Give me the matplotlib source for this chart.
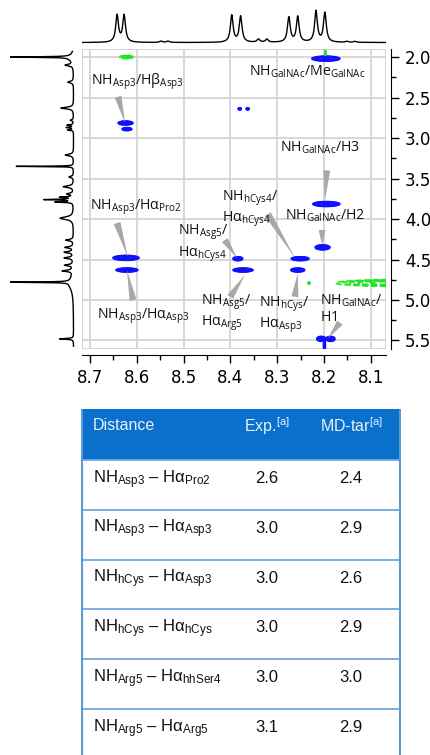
import numpy as np
import matplotlib.pyplot as plt
from matplotlib.patches import Rectangle
from matplotlib.ticker import MultipleLocator, FormatStrFormatter

plt.rcParams['font.family'] = ['Open Sans', 'DejaVu Sans']
plt.rcParams['mathtext.fontset'] = 'custom'
plt.rcParams['mathtext.default'] = 'regular'

# --- данные ---
# проекция F2 (сверху): положение, интенсивность
top_ppm = [8.642, 8.627, 8.548, 8.533, 8.397, 8.378, 8.340, 8.322,
           8.275, 8.256, 8.217, 8.198, 8.151, 8.134]
top_int = [0.78, 0.78, 0.04, 0.04, 0.78, 0.75, 0.09, 0.09,
           0.72, 0.74, 0.90, 0.85, 0.03, 0.03]

# проекция F1 (слева): положение, интенсивность, полуширина
left_ppm = [2.00, 2.01, 2.10, 2.31, 2.63, 2.78, 2.84, 2.87, 2.90, 3.21, 3.35,
            3.48, 3.60, 3.69, 3.73, 3.76, 3.79, 3.99, 4.26, 4.35, 4.41, 4.48,
            4.57, 4.64, 4.78, 4.80, 5.48]
left_int = [0.95, 0.08, 0.12, 0.09, 0.20, 0.05, 0.10, 0.11, 0.09, 0.13, 0.90,
            0.07, 0.16, 0.10, 0.20, 0.45, 0.28, 0.21, 0.12, 0.13, 0.14, 0.14,
            0.13, 0.16, 0.95, 0.07, 0.22]
left_hw = [0.004, 0.04, 0.012, 0.012, 0.012, 0.008, 0.006, 0.006, 0.006, 0.012, 0.003,
           0.01, 0.012, 0.01, 0.006, 0.005, 0.006, 0.02, 0.01, 0.01, 0.01, 0.01,
           0.01, 0.01, 0.004, 0.09, 0.006]

# кросс-пики ROESY (положительные, синие): F2, F1, ширина F2, ширина F1
pos_f2 = [8.196, 8.624, 8.621, 8.380, 8.363, 8.195, 8.203, 8.623, 8.621,
          8.384, 8.373, 8.251, 8.256, 8.206, 8.186, 8.199]
pos_f1 = [2.02, 2.815, 2.89, 2.64, 2.64, 3.815, 4.35, 4.48, 4.63,
          4.49, 4.63, 4.49, 4.63, 5.48, 5.48, 5.56]
pos_w2 = [0.060, 0.032, 0.021, 0.0065, 0.0065, 0.058, 0.032, 0.056, 0.047,
          0.021, 0.043, 0.038, 0.030, 0.019, 0.019, 0.004]
pos_w1 = [0.062, 0.049, 0.037, 0.025, 0.025, 0.062, 0.062, 0.062, 0.049,
          0.049, 0.049, 0.049, 0.049, 0.062, 0.062, 0.14]

# отрицательные (зелёные)
neg_f2 = [8.622, 8.232, 8.030, 8.197]
neg_f1 = [2.00, 4.79, 4.79, 1.95]
neg_w2 = [0.028, 0.004, 0.29, 0.003]
neg_w1 = [0.037, 0.02, 0.085, 0.06]

# подписи: текст, позиция текста, начало клина, острие клина
ann_text = [r'$NH_{Asp3}/H\beta_{Asp3}$',
            r'$NH_{GalNAc}/Me_{GalNAc}$',
            r'$NH_{GalNAc}/H3$',
            r'$NH_{GalNAc}/H2$',
            r'$NH_{Asp3}/H\alpha_{Pro2}$',
            r'$NH_{Asp3}/H\alpha_{Asp3}$',
            '$NH_{hCys4}/$' + '\n' + r'$H\alpha_{hCys4}$',
            '$NH_{Asg5}/$' + '\n' + r'$H\alpha_{hCys4}$',
            '$NH_{Asg5}/$' + '\n' + r'$H\alpha_{Arg5}$',
            '$NH_{hCys}/$' + '\n' + r'$H\alpha_{Asp3}$',
            '$NH_{GalNAc}/$' + '\n' + '$H1$']
ann_pos = [(8.698, 2.30), (8.360, 2.185), (8.294, 3.12), (8.283, 3.96),
           (8.700, 3.85), (8.685, 5.20), (8.418, 3.87), (8.512, 4.30),
           (8.463, 5.155), (8.339, 5.185), (8.209, 5.11)]
ann_tail = [(8.640, 2.49), None, (8.194, 3.40), (8.204, 4.135),
            (8.642, 4.05), (8.608, 5.00), (8.320, 3.94), (8.412, 4.26),
            (8.400, 4.96), (8.262, 4.96), (8.166, 5.28)]
ann_head = [(8.625, 2.81), None, (8.198, 3.77), (8.204, 4.32),
            (8.619, 4.47), (8.621, 4.63), (8.262, 4.48), (8.386, 4.48),
            (8.369, 4.69), (8.256, 4.67), (8.191, 5.47)]

# таблица
rows = [r'$NH_{Asp3}$ – $H\alpha_{Pro2}$',
        r'$NH_{Asp3}$ – $H\alpha_{Asp3}$',
        r'$NH_{hCys}$ – $H\alpha_{Asp3}$',
        r'$NH_{hCys}$ – $H\alpha_{hCys}$',
        r'$NH_{Arg5}$ – $H\alpha_{hhSer4}$',
        r'$NH_{Arg5}$ – $H\alpha_{Arg5}$']
exp_dist = [2.6, 3.0, 3.0, 3.0, 3.0, 3.1]
md_dist = [2.4, 2.9, 2.6, 2.9, 3.0, 2.9]
headers = ['Distance', 'Exp.$^{[a]}$', 'MD-tar$^{[a]}$']

W, H = 430, 755
XL = (8.717, 8.0675)
YL = (5.605, 1.901)

fig = plt.figure(figsize=(W / 100, H / 100), dpi=100)

# 2D спектр
ax = fig.add_axes([82 / W, 1 - 349 / H, 304 / W, 300 / H])
x = np.linspace(XL[1], XL[0], 900)
y = np.linspace(YL[1], YL[0], 1400)
X, Y = np.meshgrid(x, y)
Z = np.zeros_like(X)
for f2, f1, w2, w1 in zip(pos_f2, pos_f1, pos_w2, pos_w1):
    Z += np.exp(-0.5 * ((X - f2) / (w2 / 4)) ** 2 - 0.5 * ((Y - f1) / (w1 / 4)) ** 2)
Zn = np.zeros_like(X)
for f2, f1, w2, w1 in zip(neg_f2, neg_f1, neg_w2, neg_w1):
    Zn -= np.exp(-0.5 * ((X - f2) / (w2 / 4)) ** 2 - 0.5 * ((Y - f1) / (w1 / 4)) ** 2)

lev = 0.135 * 1.45 ** np.arange(6)
ax.contour(X, Y, Z, levels=lev, colors='#1010ff', linewidths=1.1, zorder=3)
ax.contour(X, Y, Zn, levels=-lev[::-1], colors='#22e622', linewidths=1.2, zorder=3)

ax.xaxis.set_major_locator(MultipleLocator(0.1))
ax.xaxis.set_minor_locator(MultipleLocator(0.05))
ax.yaxis.set_major_locator(MultipleLocator(0.5))
ax.yaxis.set_minor_locator(MultipleLocator(0.25))
ax.xaxis.set_major_formatter(FormatStrFormatter('%.1f'))
ax.yaxis.set_major_formatter(FormatStrFormatter('%.1f'))
ax.set_xlim(*XL)
ax.set_ylim(*YL)
ax.yaxis.tick_right()
ax.set_axisbelow(True)
ax.grid(True, which='major', color='#d4d4d4', lw=1.3)
for s in ['top', 'left']:
    ax.spines[s].set_visible(False)
ax.spines['bottom'].set_position(('outward', 4.3))
ax.spines['right'].set_position(('outward', 3.6))
ax.add_patch(Rectangle((0, 0), 1, 1, transform=ax.transAxes, fill=False,
                       ec='#cfcfcf', lw=1.3, zorder=1))
ax.tick_params(which='major', length=6, width=1, labelsize=12, pad=4,
               labelfontfamily='DejaVu Sans')
ax.tick_params(which='minor', length=3.5, width=1)

for t, p, tl, hd in zip(ann_text, ann_pos, ann_tail, ann_head):
    ax.text(p[0], p[1], t, fontsize=10.2, ha='left', va='center', color='#111111',
            linespacing=1.15, zorder=5)
    if tl is not None:
        ax.annotate('', xy=hd, xytext=tl,
                    arrowprops=dict(arrowstyle='wedge,tail_width=0.5', fc='#a8a8a8',
                                    ec='none', shrinkA=0, shrinkB=0), zorder=4)

# верхняя проекция
axt = fig.add_axes([82 / W, 1 - 46 / H, 304 / W, 38 / H])
xs = np.linspace(XL[1], XL[0], 2000)
spec = np.zeros_like(xs)
g = 0.0035
for p0, h in zip(top_ppm, top_int):
    spec += h * g ** 2 / (g ** 2 + (xs - p0) ** 2)
axt.plot(xs, spec, color='black', lw=1)
axt.set_xlim(*XL)
axt.set_ylim(-0.1, 1.0)
axt.axis('off')

# левая проекция
axl = fig.add_axes([10 / W, 1 - 349 / H, 70 / W, 300 / H])
ys = np.linspace(1.93, 5.57, 3000)
spec1 = np.zeros_like(ys)
for p0, h, gw in zip(left_ppm, left_int, left_hw):
    spec1 += h * gw ** 2 / (gw ** 2 + (ys - p0) ** 2)
axl.plot(spec1, ys, color='black', lw=1)
axl.set_xlim(1.0, -0.1)
axl.set_ylim(*YL)
axl.axis('off')

# таблица
axb = fig.add_axes([81 / W, 0, 320 / W, 346 / H])
axb.set_xlim(0, 320)
axb.set_ylim(346, 0)
axb.axis('off')
head_h = 51
row_h = 49.8
axb.add_patch(Rectangle((0, 0), 320, head_h, color='#0a70cc', lw=0))
col_x = [12, 186, 270]
axb.text(col_x[0], 17, headers[0], fontsize=11.5, family='Liberation Sans',
         color='#e8f0fa', ha='left', va='center')
for cx, h in zip(col_x[1:], headers[1:]):
    axb.text(cx, 17, h, fontsize=11.5, family='Liberation Sans',
             color='#e8f0fa', ha='center', va='center')
for i, (r, e, m) in enumerate(zip(rows, exp_dist, md_dist)):
    top = head_h + i * row_h
    axb.axhline(top, color='#6fa8dc', lw=1.3)
    axb.text(col_x[0], top + 23, r, fontsize=12, family='Liberation Sans',
             color='#111111', ha='left', va='baseline')
    axb.text(col_x[1], top + 23, f'{e:.1f}', fontsize=12, family='Liberation Sans',
             color='#111111', ha='center', va='baseline')
    axb.text(col_x[2], top + 23, f'{m:.1f}', fontsize=12, family='Liberation Sans',
             color='#111111', ha='center', va='baseline')
axb.axvline(0.7, color='#5b9bd5', lw=1.5)
axb.axvline(319.3, color='#5b9bd5', lw=1.5)

fig.savefig('out.png', dpi=100)
